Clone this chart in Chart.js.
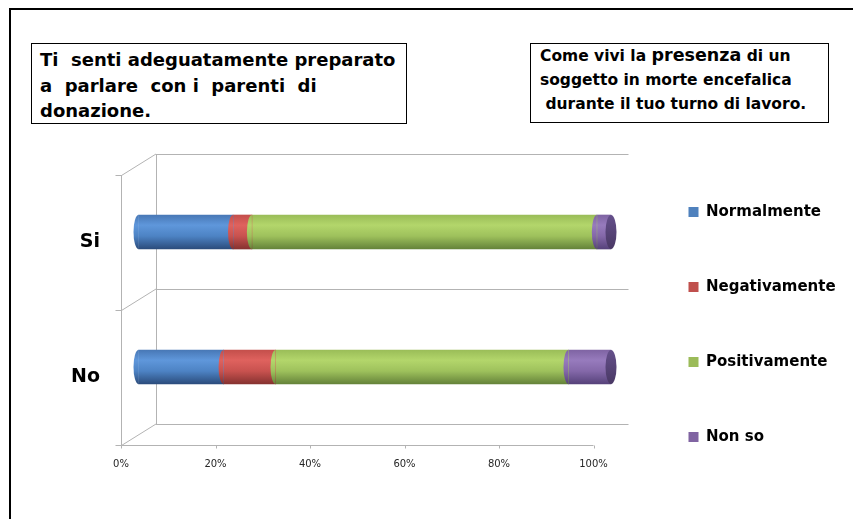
<!DOCTYPE html>
<html>
<head>
<meta charset="utf-8">
<title>Morte encefalica - turno di lavoro</title>
<script src="https://cdn.jsdelivr.net/npm/chart.js@4.4.1/dist/chart.umd.min.js"></script>
<style>
  body { margin: 0; background: #fff; font-family: 'DejaVu Sans', sans-serif; }
  #wrap { position: relative; width: 853px; height: 519px; overflow: hidden; }
  #frame { position: absolute; left: 9px; top: 8px; width: 900px; height: 600px;
           border-top: 2px solid #000; border-left: 2px solid #000; }
  #chart-box { position: absolute; left: 0; top: 0; width: 853px; height: 519px; }
  .box { position: absolute; border: 1px solid #000; background: #fff; color: #000;
         font-weight: bold; white-space: pre; box-sizing: content-box; }
  #q1 { left: 31px; top: 43px; width: 366px; height: 76px; padding: 3px 0 0 8px;
        font-size: 18px; line-height: 25.5px; }
  #q2 { left: 530px; top: 43px; width: 288px; height: 78px; padding: 0 0 0 9px;
        font-size: 15.5px; line-height: 24px; }
  #q2 .big { font-size: 17.5px; line-height: 1; }
</style>
</head>
<body>
<div id="wrap">
  <div id="frame"></div>
  <div id="chart-box"><canvas id="myChart"></canvas></div>
  <div class="box" id="q1">Ti  senti adeguatamente preparato
a  parlare  con i  parenti  di
donazione.</div>
  <div class="box" id="q2">Come vivi la <span class="big">presenza</span> di un
soggetto in morte encefalica
 durante il tuo turno di lavoro.</div>
</div>

<script>
// risposte (percentuali per riga)
const categories = ['Si', 'No'];
const seriesNames = ['Normalmente', 'Negativamente', 'Positivamente', 'Non so'];
const normalmente = [20, 18];
const negativamente = [4, 11];
const positivamente = [73, 62];
const nonSo = [3, 9];
const xTicks = [0, 20, 40, 60, 80, 100];

const legendColors = ['#4f81bd', '#c0504d', '#9bbb59', '#8064a2'];
// top -> bottom shading of each cylinder
const shades = [
  ['#4878b6', '#5f97db', '#4d83c4', '#2b4c7c'],
  ['#c44f4b', '#df625e', '#c8524f', '#863230'],
  ['#9abd58', '#b3d66b', '#9ec15c', '#65833a'],
  ['#7f64a3', '#977bbd', '#8468a9', '#56427a']
];
const faceTop = '#65508b';
const faceBottom = '#493864';
const frameColor = '#b3b3b3';

const depthX = 35;   // back wall shift to the right
const depthY = 21;   // back wall shift upwards
const barThick = 34;
const capRx = 5;
const font = "'DejaVu Sans', sans-serif";

function cylinderFill(i) {
  return function (ctx) {
    const chart = ctx.chart;
    if (!chart.chartArea || ctx.dataIndex === undefined) return legendColors[i];
    const yc = chart.scales.y.getPixelForValue(ctx.dataIndex);
    const g = chart.ctx.createLinearGradient(0, yc - barThick / 2, 0, yc + barThick / 2);
    const s = shades[i];
    g.addColorStop(0, s[0]);
    g.addColorStop(0.3, s[1]);
    g.addColorStop(0.62, s[2]);
    g.addColorStop(1, s[3]);
    return g;
  };
}

// front edges of the 3d box: left wall, floor, ticks
function drawFrame(chart) {
  const { ctx, chartArea, scales: { x, y } } = chart;
  const fx = Math.round(x.getPixelForValue(xTicks[0]) - depthX) + 0.5;
  const fTop = chartArea.top + depthY;
  const fBottom = Math.round(chartArea.bottom + depthY) + 0.5;
  ctx.save();
  ctx.strokeStyle = frameColor;
  ctx.lineWidth = 1;
  ctx.beginPath();
  ctx.moveTo(fx, fTop);
  ctx.lineTo(fx, fBottom);
  ctx.moveTo(fx, fBottom);
  ctx.lineTo(x.getPixelForValue(xTicks[xTicks.length - 1]) - depthX, fBottom);
  for (let k = 0; k <= categories.length; k++) {
    const by = y.getPixelForValue(k - 0.5);
    const fy = Math.round(by + depthY) + 0.5;
    ctx.moveTo(fx, fy);
    ctx.lineTo(chartArea.left, by);
    ctx.moveTo(fx - 6, fy);
    ctx.lineTo(fx, fy);
  }
  xTicks.forEach(v => {
    const px = Math.round(x.getPixelForValue(v) - depthX) + 0.5;
    ctx.moveTo(px, fBottom);
    ctx.lineTo(px, fBottom + 3);
  });
  ctx.stroke();
  ctx.restore();
}

const cylinders = {
  id: 'cylinders',
  beforeDatasetsDraw(chart) {
    drawFrame(chart);
    chart.ctx.save();
    chart.ctx.translate(-depthX / 2, depthY / 2);
  },
  afterDatasetsDraw(chart) {
    const c = chart.ctx;
    const last = chart.data.datasets.length - 1;
    chart.data.datasets.forEach((ds, i) => {
      chart.getDatasetMeta(i).data.forEach(bar => {
        const ry = bar.height / 2;
        // rounded left end of every segment
        c.fillStyle = bar.options.backgroundColor;
        c.beginPath();
        c.ellipse(bar.base, bar.y, capRx, ry, 0, Math.PI / 2, Math.PI * 1.5);
        c.fill();
        if (i === last) {
          const g = c.createLinearGradient(0, bar.y - ry, 0, bar.y + ry);
          g.addColorStop(0, faceTop);
          g.addColorStop(1, faceBottom);
          c.fillStyle = g;
          c.beginPath();
          c.ellipse(bar.x, bar.y, capRx + 0.5, ry, 0, 0, Math.PI * 2);
          c.fill();
        }
      });
    });
    c.restore();
  }
};

const values = [normalmente, negativamente, positivamente, nonSo];

new Chart('myChart', {
  type: 'bar',
  data: {
    labels: categories,
    datasets: seriesNames.map((name, i) => ({
      label: name,
      data: values[i],
      backgroundColor: cylinderFill(i),
      borderWidth: 0,
      barThickness: barThick,
      clip: false
    }))
  },
  options: {
    indexAxis: 'y',
    responsive: true,
    maintainAspectRatio: false,
    animation: false,
    layout: { padding: { top: 140, bottom: 10, left: 0, right: 15 } },
    scales: {
      x: {
        stacked: true,
        min: xTicks[0],
        max: xTicks[xTicks.length - 1],
        grid: { display: false },
        border: { display: false },
        ticks: {
          stepSize: xTicks[1] - xTicks[0],
          callback: v => v + '%',
          labelOffset: -depthX,
          padding: 26,
          color: '#262626',
          font: { family: font, size: 10 }
        },
        afterFit(s) { s.height = 85; }
      },
      xTop: {
        type: 'linear',
        position: 'top',
        min: 0,
        max: 100,
        grid: { display: false },
        border: { display: false },
        ticks: { display: false },
        afterFit(s) { s.height = 14; }
      },
      y: {
        stacked: true,
        grid: { color: frameColor, drawTicks: false },
        border: { display: true, color: frameColor },
        ticks: {
          padding: 56,
          labelOffset: depthY,
          color: '#000',
          font: { family: font, size: 19, weight: 'bold' }
        },
        afterFit(s) { s.width = 156; }
      }
    },
    plugins: {
      tooltip: { enabled: false },
      legend: {
        position: 'right',
        labels: {
          boxWidth: 10,
          boxHeight: 10,
          padding: 60,
          color: '#000',
          font: { family: font, size: 15, weight: 'bold' },
          generateLabels: chart => chart.data.datasets.map((ds, i) => ({
            text: ds.label,
            fillStyle: legendColors[i],
            strokeStyle: legendColors[i],
            lineWidth: 0,
            hidden: !chart.isDatasetVisible(i),
            datasetIndex: i
          }))
        }
      }
    }
  },
  plugins: [cylinders]
});
</script>
</body>
</html>
